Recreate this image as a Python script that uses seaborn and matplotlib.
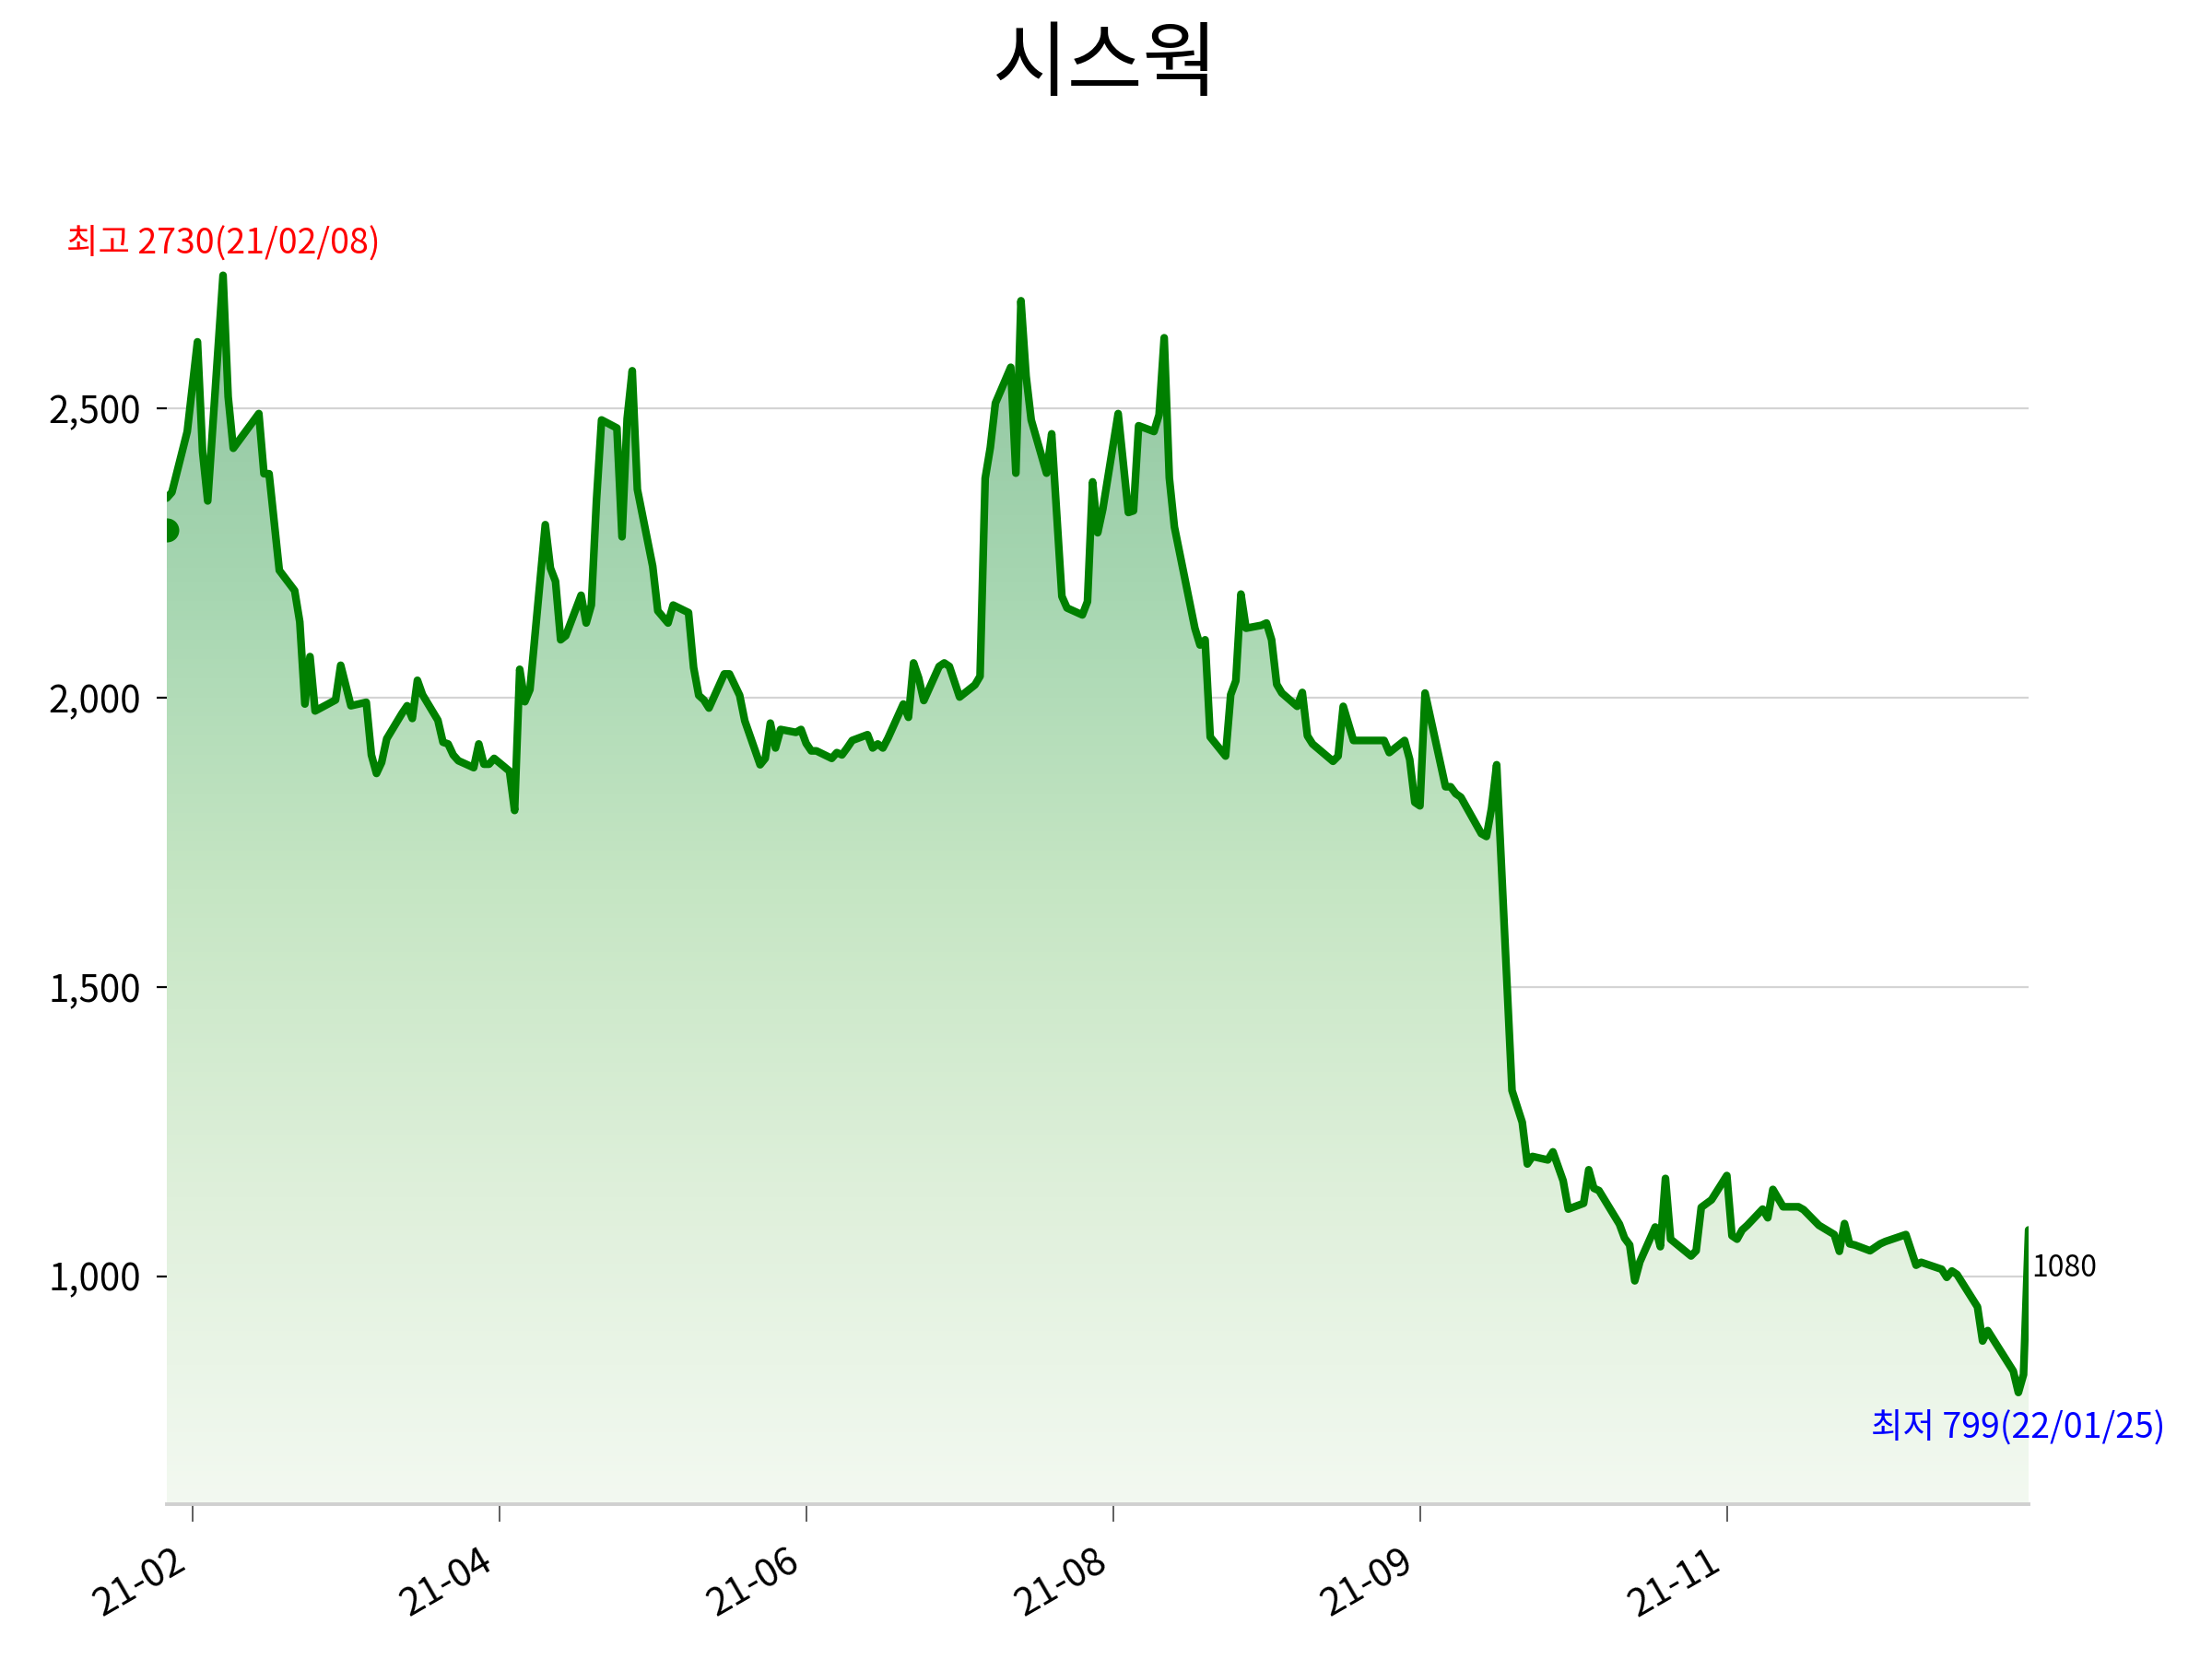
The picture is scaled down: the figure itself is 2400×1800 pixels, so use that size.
import numpy as np
import pandas as pd
import matplotlib
matplotlib.use('Agg')
import matplotlib.pyplot as plt
import matplotlib.dates as mdates
from matplotlib.patches import PathPatch
from matplotlib.colors import LinearSegmentedColormap
from matplotlib.ticker import FuncFormatter
import seaborn as sns

# 차트 데이터 (거래일 기준, 시작일로부터의 일수)
title = '시스웍'
start_date = '2021-01-28'
first_price = 2290

day_offsets = [0, 1, 4, 6, 7, 8, 11, 12, 13, 18, 19, 20, 22, 25, 26, 27, 28, 29, 33, 34,
               36, 39, 40, 41, 42, 43, 46, 47, 48, 49, 50, 53, 54, 55, 56, 57, 60, 61, 62, 63,
               64, 67, 68, 69, 70, 71, 74, 75, 76, 77, 78, 81, 82, 83, 84, 85, 88, 89, 90, 91,
               92, 95, 96, 98, 99, 102, 103, 104, 105, 106, 109, 110, 112, 113, 116, 117, 118, 119, 120, 123,
               124, 125, 126, 127, 130, 131, 132, 133, 134, 137, 138, 139, 140, 141, 144, 145, 146, 147, 148, 151,
               152, 153, 155, 158, 159, 160, 161, 162, 165, 166, 167, 168, 169, 172, 173, 175, 176, 179, 180, 181,
               182, 183, 186, 188, 189, 190, 193, 194, 195, 196, 197, 201, 202, 203, 204, 207, 208, 209, 210, 211,
               214, 215, 216, 217, 218, 221, 222, 223, 224, 228, 229, 230, 232, 238, 239, 242, 243, 244, 245, 246,
               250, 251, 252, 253, 257, 258, 259, 260, 263, 265, 266, 267, 270, 271, 273, 274, 277, 278, 279, 280,
               284, 285, 286, 287, 288, 291, 292, 293, 294, 298, 299, 300, 302, 305, 306, 307, 308, 309, 312, 313,
               314, 316, 319, 320, 323, 326, 327, 328, 329, 330, 333, 335, 336, 340, 342, 343, 347, 348, 349, 350,
               354, 355, 356, 361, 362, 363, 364]

prices = [2345, 2355, 2460, 2615, 2425, 2340, 2730, 2520, 2431, 2491, 2387, 2387, 2220, 2185, 2131, 1989, 2071, 1977, 1996, 2056,
          1986, 1992, 1901, 1869, 1888, 1929, 1973, 1986, 1964, 2030, 2005, 1961, 1923, 1920, 1901, 1891, 1879, 1920, 1885, 1885,
          1895, 1873, 1805, 2049, 1993, 2014, 2299, 2224, 2201, 2100, 2107, 2177, 2129, 2160, 2340, 2480, 2466, 2278, 2482, 2565,
          2360, 2227, 2150, 2129, 2160, 2147, 2052, 2004, 1996, 1982, 2041, 2041, 2004, 1960, 1884, 1895, 1956, 1913, 1945, 1940,
          1945, 1921, 1908, 1908, 1895, 1905, 1901, 1913, 1926, 1936, 1913, 1920, 1913, 1930, 1989, 1966, 2060, 2034, 1995, 2054,
          2060, 2054, 2001, 2022, 2037, 2379, 2432, 2509, 2571, 2388, 2686, 2556, 2480, 2388, 2456, 2175, 2155, 2143, 2166, 2373,
          2285, 2326, 2491, 2320, 2323, 2470, 2460, 2489, 2622, 2380, 2295, 2120, 2091, 2100, 1932, 1899, 2005, 2029, 2179, 2120,
          2125, 2129, 2100, 2023, 2008, 1985, 2009, 1934, 1920, 1890, 1899, 1985, 1926, 1926, 1905, 1926, 1893, 1819, 1813, 2008,
          1846, 1846, 1834, 1828, 1765, 1760, 1809, 1884, 1321, 1266, 1194, 1207, 1201, 1215, 1165, 1116, 1126, 1184, 1152, 1148,
          1090, 1066, 1054, 992, 1025, 1085, 1051, 1169, 1064, 1035, 1044, 1119, 1132, 1174, 1070, 1064, 1080, 1088, 1116, 1101,
          1150, 1120, 1120, 1115, 1088, 1072, 1043, 1091, 1056, 1054, 1044, 1056, 1060, 1072, 1019, 1024, 1012, 998, 1009, 1003,
          947, 888, 906, 836, 799, 830, 1080]

tick_dates = ['2021-02-02', '2021-04-03', '2021-06-02', '2021-08-01', '2021-09-30', '2021-11-29']
tick_labels = ['21-02', '21-04', '21-06', '21-08', '21-09', '21-11']
y_ticks = [1000, 1500, 2000, 2500]

# 채우기 그라데이션 색 (아래 -> 위)
fill_colors = ['#f3f9f1', '#dff0db', '#c6e6c4', '#a6d6b1', '#8fc49f']

dates = pd.Timestamp(start_date) + pd.to_timedelta(day_offsets, unit='D')
df = pd.DataFrame({'date': dates, 'price': prices})

sns.set_theme(style='white')
plt.rcParams['font.family'] = ['Noto Sans CJK KR', 'DejaVu Sans']
plt.rcParams['axes.unicode_minus'] = False
plt.rcParams['text.color'] = 'black'

fig = plt.figure(figsize=(12, 9), dpi=200)
ax = fig.add_axes([0.0754, 0.0933, 0.8417, 0.8081])

lo, hi = min(prices), max(prices)
pad = (hi - lo) * 0.1
ymin, ymax = lo - pad, hi + pad

# 그라데이션 채우기
poly = ax.fill_between(df['date'], df['price'], ymin, color='none', lw=0)
clip = PathPatch(poly.get_paths()[0], transform=ax.transData, facecolor='none', edgecolor='none')
ax.add_patch(clip)
cmap = LinearSegmentedColormap.from_list('fill', fill_colors)
grad = np.linspace(0, 1, 256).reshape(-1, 1)
x0 = mdates.date2num(dates[0])
x1 = mdates.date2num(dates[-1])
im = ax.imshow(grad, cmap=cmap, extent=[x0, x1, ymin, hi], origin='lower', aspect='auto', zorder=1)
im.set_clip_path(clip)

sns.lineplot(data=df, x='date', y='price', ax=ax, color='#008000', linewidth=3.0,
             solid_joinstyle='round', solid_capstyle='round', zorder=3)
ax.scatter([dates[0]], [first_price], s=70, color='#008000', zorder=4, clip_on=True)

ax.set_xlim(dates[0], dates[-1])
ax.set_ylim(ymin, ymax)
ax.set_xlabel('')
ax.set_ylabel('')

ax.set_yticks(y_ticks)
ax.yaxis.set_major_formatter(FuncFormatter(lambda v, p: f'{v:,.0f}'))
ax.set_xticks(pd.to_datetime(tick_dates))
ax.set_xticklabels(tick_labels, rotation=30, ha='right')

ax.yaxis.grid(True, color='#d4d4d4', linewidth=0.8)
ax.xaxis.grid(False)
ax.set_axisbelow(True)
for s in ['top', 'right', 'left']:
    ax.spines[s].set_visible(False)
ax.spines['bottom'].set_color('#d0d0d0')
ax.spines['bottom'].set_linewidth(1.4)

ax.tick_params(axis='y', left=True, length=4, width=0.8, color='black', labelsize=14.5, pad=6, labelcolor='black')
ax.tick_params(axis='x', bottom=True, length=7, width=0.6, color='#444444', labelsize=15, pad=8, labelcolor='black')

# 최고/최저/현재가 표시
i_hi = int(np.argmax(prices))
i_lo = int(np.argmin(prices))
high_label = f'최고 {prices[i_hi]}({dates[i_hi].strftime("%y/%m/%d")})'
low_label = f'최저 {prices[i_lo]}({dates[i_lo].strftime("%y/%m/%d")})'
ax.annotate(high_label, xy=(dates[i_hi], prices[i_hi]), xytext=(0, 12), textcoords='offset points',
            ha='center', va='center', color='red', fontsize=13.5, annotation_clip=False)
ax.annotate(low_label, xy=(dates[i_lo], prices[i_lo]), xytext=(0, -14), textcoords='offset points',
            ha='center', va='center', color='blue', fontsize=13.5, annotation_clip=False)
ax.annotate(str(prices[-1]), xy=(dates[-1], prices[-1]), xytext=(1, -15), textcoords='offset points',
            ha='left', va='center', color='black', fontsize=11.5, annotation_clip=False)

fig.text(0.5, 0.96, title, ha='center', va='center', fontsize=32, color='black')

fig.savefig('out.png', dpi=200)
